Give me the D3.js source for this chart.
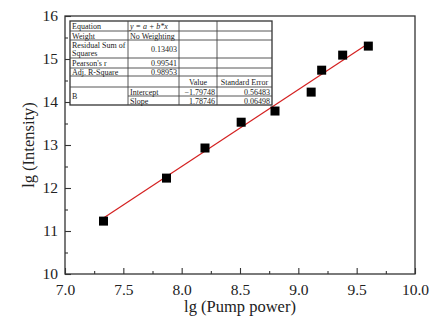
<!DOCTYPE html>
<html><head><meta charset="utf-8">
<script src="https://cdn.jsdelivr.net/npm/d3@7"></script>
<style>body{margin:0;background:#fff}svg{display:block}text{font-family:"Liberation Serif","Times New Roman",serif}</style>
</head><body>
<svg id="c" width="442" height="328"></svg>
<script>
const xVals = [7.33, 7.87, 8.20, 8.51, 8.80, 9.11, 9.20, 9.38, 9.60];
const yVals = [11.23, 12.23, 12.93, 13.53, 13.79, 14.23, 14.74, 15.09, 15.30];
const intercept = -1.79748, slope = 1.78746;
const xTicks = [7.0, 7.5, 8.0, 8.5, 9.0, 9.5, 10.0];
const yTicks = [10, 11, 12, 13, 14, 15, 16];
const tableRows = [
  ["Equation", "y = a + b*x", "", ""],
  ["Weight", "No Weighting", "", ""],
  ["Residual Sum of|Squares", "0.13403", "", ""],
  ["Pearson's r", "0.99541", "", ""],
  ["Adj. R-Square", "0.98953", "", ""],
  ["", "", "Value", "Standard Error"],
  ["B", "Intercept", "\u22121.79748", "0.56483"],
  ["", "Slope", "1.78746", "0.06498"]
];

const svg = d3.select("#c");
const L = 65, R = 415, T = 16, B = 274;
const x = d3.scaleLinear().domain([7, 10]).range([L, R]);
const y = d3.scaleLinear().domain([10, 16]).range([B, T]);

// frame
svg.append("rect").attr("x", L).attr("y", T).attr("width", R - L).attr("height", B - T)
  .attr("fill", "none").attr("stroke", "#333").attr("stroke-width", 1.3);

// axes with inward ticks
const xMinor = d3.range(7.25, 10, 0.5);
const yMinor = d3.range(10.5, 16, 1);
const gx = svg.append("g").attr("transform", `translate(0,${B})`);
gx.call(d3.axisBottom(x).tickValues(xTicks).tickFormat(d3.format(".1f")).tickSize(-6).tickPadding(10));
gx.append("g").call(d3.axisBottom(x).tickValues(xMinor).tickFormat("").tickSize(-3));
const gy = svg.append("g").attr("transform", `translate(${L},0)`);
gy.call(d3.axisLeft(y).tickValues(yTicks).tickFormat(d3.format("d")).tickSize(-6).tickPadding(7));
gy.append("g").call(d3.axisLeft(y).tickValues(yMinor).tickFormat("").tickSize(-3));
svg.selectAll(".domain").remove();
svg.selectAll(".tick line").attr("stroke", "#333").attr("stroke-width", 1.1);
svg.selectAll(".tick text").attr("font-family", "Liberation Serif").attr("font-size", 15.5).attr("fill", "#222");

// axis titles
svg.append("text").attr("x", (L + R) / 2).attr("y", 312).attr("text-anchor", "middle")
  .attr("font-size", 16.5).attr("fill", "#222").text("lg (Pump power)");
svg.append("text").attr("transform", `translate(34,${(T + B) / 2}) rotate(-90)`).attr("text-anchor", "middle")
  .attr("font-size", 16.5).attr("fill", "#222").text("lg (Intensity)");

// fit line
const x0 = d3.min(xVals), x1 = d3.max(xVals);
svg.append("line").attr("x1", x(x0)).attr("y1", y(intercept + slope * x0))
  .attr("x2", x(x1)).attr("y2", y(intercept + slope * x1))
  .attr("stroke", "#d42020").attr("stroke-width", 1.2);

// points
svg.selectAll("rect.pt").data(xVals).join("rect").attr("class", "pt")
  .attr("x", (d) => x(d) - 4.5).attr("y", (d, i) => y(yVals[i]) - 4.5)
  .attr("width", 9).attr("height", 9).attr("fill", "#000");

// table
const tg = svg.append("g");
const cols = [70, 128, 179, 217, 272];
const rows = [21, 31, 40, 58, 68, 76, 87, 96, 105];
tg.append("rect").attr("x", cols[0]).attr("y", rows[0]).attr("width", cols[4] - cols[0]).attr("height", rows[8] - rows[0])
  .attr("fill", "#fff").attr("stroke", "#333").attr("stroke-width", 1.3);
// horizontal lines
rows.slice(1, 8).forEach((ry, i) => {
  const start = (i === 6) ? cols[1] : cols[0];
  tg.append("line").attr("x1", start).attr("x2", cols[4]).attr("y1", ry).attr("y2", ry)
    .attr("stroke", "#444").attr("stroke-width", 0.9);
});
cols.slice(1, 4).forEach((cx) => {
  tg.append("line").attr("x1", cx).attr("x2", cx).attr("y1", rows[0]).attr("y2", rows[8])
    .attr("stroke", "#444").attr("stroke-width", 0.9);
});
const fs = 8;
tableRows.forEach((r, i) => {
  const top = rows[i], bot = rows[i + 1];
  r.forEach((t, j) => {
    if (!t) return;
    let anchor = "start", tx = cols[j] + 2;
    if (j >= 1 && i >= 2 && !(j === 1 && i >= 6)) { anchor = "end"; tx = cols[j + 1] - 2; }
    if (i === 5) { anchor = "middle"; tx = (cols[j] + cols[j + 1]) / 2; }
    let cy = (top + bot) / 2;
    if (j === 0 && i === 6) cy = (rows[6] + rows[8]) / 2;
    const lines = t.split("|");
    lines.forEach((ln, k) => {
      const yy = cy + 3 + (k - (lines.length - 1) / 2) * 8.5;
      const te = tg.append("text").attr("x", tx).attr("y", yy).attr("text-anchor", anchor)
        .attr("font-size", fs).attr("fill", "#222").text(ln);
      if (i === 0 && j === 1) te.attr("font-style", "italic");
    });
  });
});
</script>
</body></html>
